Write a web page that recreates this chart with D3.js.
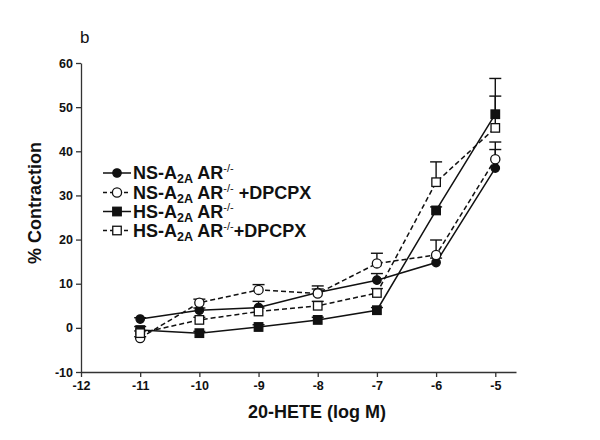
<!DOCTYPE html>
<html>
<head>
<meta charset="utf-8">
<script src="https://cdn.jsdelivr.net/npm/d3@7"></script>
<style>
  body { margin: 0; background: #fff; }
  text { font-family: "Liberation Sans", Arial, sans-serif; }
</style>
</head>
<body>
<div id="chart"></div>
<script>
// DATA
const doses = [-11, -10, -9, -8, -7, -6, -5];
const xTicks = [-12, -11, -10, -9, -8, -7, -6, -5];
const yTicks = [-10, 0, 10, 20, 30, 40, 50, 60];

const nsValues = [2.0, 4.0, 4.6, 8.0, 10.8, 14.8, 36.2];
const nsErr = [0.3, 0.5, 1.4, 1.5, 1.5, 1.0, 4.2];
const nsDpcpxValues = [-2.3, 5.7, 8.6, 7.8, 14.6, 16.5, 38.2];
const nsDpcpxErr = [0.3, 0.8, 1.2, 1.0, 2.3, 3.4, 3.9];
const hsValues = [-0.5, -1.2, 0.2, 1.8, 4.0, 26.6, 48.4];
const hsErr = [0.8, 0.4, 0.5, 0.6, 0.6, 0.8, 8.1];
const hsDpcpxValues = [-1.2, 1.8, 3.7, 5.0, 7.9, 33.0, 45.3];
const hsDpcpxErr = [0.5, 0.6, 0.8, 1.0, 1.0, 4.6, 7.2];

const series = [
  { name: "NS", plus: false, values: nsValues, err: nsErr, shape: "circle", filled: true, dashed: false },
  { name: "NS", plus: true, values: nsDpcpxValues, err: nsDpcpxErr, shape: "circle", filled: false, dashed: true },
  { name: "HS", plus: false, values: hsValues, err: hsErr, shape: "square", filled: true, dashed: false },
  { name: "HS", plus: true, values: hsDpcpxValues, err: hsDpcpxErr, shape: "square", filled: false, dashed: true }
];

const W = 600, H = 440;
const margin = { top: 63, right: 84, bottom: 68, left: 81 };

const svg = d3.select("#chart").append("svg")
  .attr("width", W)
  .attr("height", H);

const xScale = d3.scaleLinear()
  .domain([-12, -4.65])
  .range([margin.left, W - margin.right]);

const yScale = d3.scaleLinear()
  .domain([-10, 60])
  .range([H - margin.bottom, margin.top]);

// AXES (plain hyphen for negatives, like the original)
const fmt = d => String(d);
const xAxis = svg.append("g")
  .attr("transform", `translate(0,${yScale(-10)})`)
  .call(d3.axisBottom(xScale).tickValues(xTicks).tickFormat(fmt).tickSize(5).tickSizeOuter(0).tickPadding(4));
const yAxis = svg.append("g")
  .attr("transform", `translate(${xScale(-12)},0)`)
  .call(d3.axisLeft(yScale).tickValues(yTicks).tickFormat(fmt).tickSize(5).tickSizeOuter(0).tickPadding(3));

[xAxis, yAxis].forEach(a => {
  a.select(".domain").attr("stroke", "#333").attr("stroke-width", 1.3);
  a.selectAll(".tick line").attr("stroke", "#333").attr("stroke-width", 1.3);
  a.selectAll(".tick text")
    .attr("fill", "#111")
    .style("font-size", "12.5px")
    .style("font-weight", "bold")
    .style("font-family", "'Liberation Sans', Arial, sans-serif");
});

// Axis titles
svg.append("text")
  .attr("x", 317)
  .attr("y", 418)
  .attr("text-anchor", "middle")
  .style("font-size", "18px")
  .style("font-weight", "bold")
  .attr("fill", "#111")
  .text("20-HETE (log M)");

svg.append("text")
  .attr("transform", "translate(41,203) rotate(-90)")
  .attr("text-anchor", "middle")
  .style("font-size", "18px")
  .style("font-weight", "bold")
  .attr("fill", "#111")
  .text("% Contraction");

svg.append("text")
  .attr("x", 80)
  .attr("y", 43)
  .style("font-size", "17px")
  .attr("fill", "#111")
  .text("b");

// LINES
const line = d3.line()
  .x((d, i) => xScale(doses[i]))
  .y(d => yScale(d));

const plot = svg.append("g");

series.forEach(s => {
  plot.append("path")
    .attr("d", line(s.values))
    .attr("fill", "none")
    .attr("stroke", "#111")
    .attr("stroke-width", 1.5)
    .attr("stroke-dasharray", s.dashed ? "5,3" : null);
});

// ERROR BARS (upward)
series.forEach(s => {
  const g = plot.append("g");
  s.values.forEach((v, i) => {
    const x = xScale(doses[i]);
    g.append("line")
      .attr("x1", x).attr("x2", x)
      .attr("y1", yScale(v)).attr("y2", yScale(v + s.err[i]))
      .attr("stroke", "#111").attr("stroke-width", 1.4);
    g.append("line")
      .attr("x1", x - 6).attr("x2", x + 6)
      .attr("y1", yScale(v + s.err[i])).attr("y2", yScale(v + s.err[i]))
      .attr("stroke", "#111").attr("stroke-width", 1.4);
  });
});

// MARKERS
function drawMarker(g, s, x, y) {
  if (s.shape === "circle") {
    g.append("circle")
      .attr("cx", x).attr("cy", y)
      .attr("r", s.filled ? 4.2 : 4.6)
      .attr("fill", s.filled ? "#111" : "#fff")
      .attr("stroke", "#111")
      .attr("stroke-width", 1.3);
  } else {
    const sz = 8.5;
    g.append("rect")
      .attr("x", x - sz / 2).attr("y", y - sz / 2)
      .attr("width", sz).attr("height", sz)
      .attr("fill", s.filled ? "#111" : "#fff")
      .attr("stroke", "#111")
      .attr("stroke-width", 1.3);
  }
}

series.forEach(s => {
  const g = plot.append("g");
  s.values.forEach((v, i) => drawMarker(g, s, xScale(doses[i]), yScale(v)));
});

// LEGEND
const legend = svg.append("g");
const rowY = [173, 192.5, 211.5, 230.5];
series.forEach((s, i) => {
  const y = rowY[i];
  legend.append("line")
    .attr("x1", 103).attr("x2", 131)
    .attr("y1", y).attr("y2", y)
    .attr("stroke", "#111").attr("stroke-width", 1.5)
    .attr("stroke-dasharray", s.dashed ? "4,3" : null);
  drawMarker(legend, s, 117, y);
  const t = legend.append("text")
    .attr("x", 133)
    .attr("y", y + 6)
    .style("font-size", "18px")
    .style("font-weight", "bold")
    .attr("fill", "#111");
  t.append("tspan").text(s.name + "-A");
  t.append("tspan").attr("dy", 4).style("font-size", "12.5px").text("2A");
  t.append("tspan").attr("dy", -4).text(" AR");
  t.append("tspan").attr("dy", -7).style("font-size", "11px").style("font-weight", "normal").text("-/-");
  t.append("tspan").attr("dy", 7).text(s.plus ? (i === 1 ? " +DPCPX" : "+DPCPX") : "");
});
</script>
</body>
</html>
